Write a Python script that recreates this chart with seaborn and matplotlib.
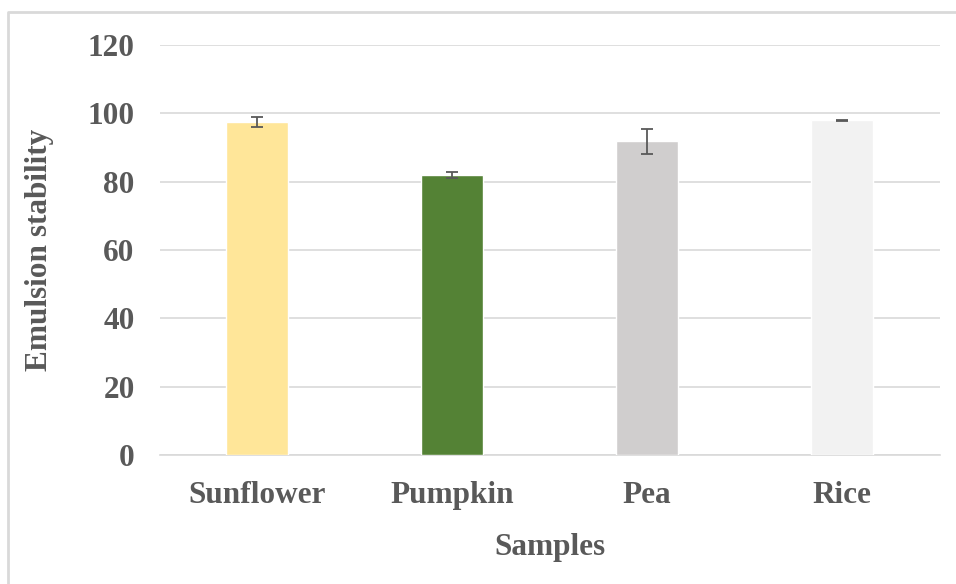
import pandas as pd
import seaborn as sns
import matplotlib.pyplot as plt
from matplotlib.lines import Line2D

# Data
samples = ['Sunflower', 'Pumpkin', 'Pea', 'Rice']
stability = [97.4, 81.9, 91.8, 97.9]
errors = [1.4, 0.8, 3.7, 0.2]
bar_colors = ['#FFE699', '#548235', '#D0CECE', '#F2F2F2']

TEXT = '#595959'
GRID = '#D9D9D9'
FS = 22.5

sns.set_style("white")
plt.rcParams['font.family'] = ['Liberation Serif', 'DejaVu Serif']
plt.rcParams['font.weight'] = 'bold'

df = pd.DataFrame({'sample': samples, 'stability': stability})

fig = plt.figure(figsize=(9.56, 5.84), dpi=100)
ax = fig.add_axes([0.167, 0.221, 0.816, 0.702])

sns.barplot(data=df, x='sample', y='stability', hue='sample', palette=bar_colors,
            saturation=1, width=0.32, legend=False, ax=ax, zorder=3)
ax.errorbar(x=range(len(samples)), y=stability, yerr=errors, fmt='none',
            ecolor=TEXT, elinewidth=1.3, capsize=4.3, capthick=1.3, zorder=4)

ax.set_ylim(0, 120)
ax.set_yticks(range(0, 121, 20))
ax.set_xlim(-0.5, 3.5)
ax.yaxis.grid(True, color=GRID, linewidth=1.2, zorder=0)
for side in ['top', 'right', 'left']:
    ax.spines[side].set_visible(False)
ax.spines['bottom'].set_color(GRID)
ax.spines['bottom'].set_linewidth(1.2)
ax.tick_params(axis='y', length=0, labelsize=FS, colors=TEXT, pad=18)
ax.tick_params(axis='x', length=0, labelsize=FS, colors=TEXT, pad=19)
for lbl in ax.get_xticklabels() + ax.get_yticklabels():
    lbl.set_fontweight('bold')

ax.set_xlabel('Samples', fontsize=FS, fontweight='bold', color=TEXT, labelpad=16)
ax.set_ylabel('Emulsion stability', fontsize=FS, fontweight='bold', color=TEXT, labelpad=24)

# light chart border (only top and left edges visible in the crop)
fig.add_artist(Line2D([8 / 956, 8 / 956, 1], [0, 1 - 12 / 584, 1 - 12 / 584],
                      transform=fig.transFigure, color=GRID, linewidth=2))

fig.savefig('out.png', dpi=100)
